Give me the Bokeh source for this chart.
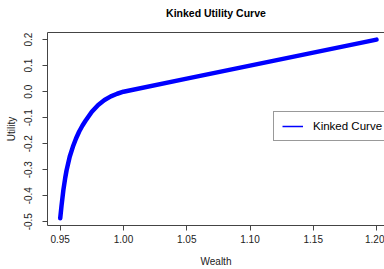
from bokeh.plotting import figure
from bokeh.models import (ColumnDataSource, LinearAxis, FixedTicker, Legend, LegendItem, Range1d)
from bokeh.embed import file_html
from bokeh.resources import INLINE

# ---- data ----
wealth = [0.950, 0.951, 0.9525, 0.954, 0.955, 0.9575, 0.960, 0.9625, 0.965, 0.9675,
          0.970, 0.975, 0.980, 0.985, 0.990, 0.995, 1.000, 1.050, 1.100, 1.150, 1.200]
utility = [-0.487, -0.440, -0.378, -0.330, -0.303, -0.250, -0.212, -0.180, -0.153, -0.131,
           -0.112, -0.077, -0.051, -0.032, -0.018, -0.008, 0.000, 0.050, 0.100, 0.150, 0.200]

x_ticks = [0.95, 1.00, 1.05, 1.10, 1.15, 1.20]
x_tick_labels = ["0.95", "1.00", "1.05", "1.10", "1.15", "1.20"]
y_ticks = [-0.5, -0.4, -0.3, -0.2, -0.1, 0.0, 0.1, 0.2]
y_tick_labels = ["-0.5", "-0.4", "-0.3", "-0.2", "-0.1", "0.0", "0.1", "0.2"]

title_text = "Kinked Utility Curve"
x_label = "Wealth"
y_label = "Utility"
series_name = "Kinked Curve"

FONT = "Liberation Sans"
AXC = "#444444"
TXC = "#222222"

p = figure(width=384, height=269, output_backend="svg", toolbar_location=None,
           x_range=Range1d(0.93995, 1.2063), y_range=Range1d(-0.5145, 0.2275),
           x_axis_type=None, y_axis_type=None,
           min_border_left=47, min_border_right=0, min_border_top=32, min_border_bottom=43)
p.title.text = ""
p.title.standoff = 0
p.outline_line_color = None
p.background_fill_color = "white"
p.border_fill_color = "white"
p.xgrid.visible = False
p.ygrid.visible = False

def style_axis(ax):
    ax.axis_line_color = AXC
    ax.axis_line_width = 1
    ax.major_tick_line_color = AXC
    ax.major_tick_out = 5
    ax.major_tick_in = 0
    ax.minor_tick_line_color = None
    ax.major_label_text_font = FONT
    ax.major_label_text_font_size = "10px"
    ax.major_label_text_color = TXC
    ax.axis_label_text_font = FONT
    ax.axis_label_text_font_size = "10px"
    ax.axis_label_text_font_style = "normal"
    ax.axis_label_text_color = TXC

xaxis = LinearAxis(ticker=FixedTicker(ticks=x_ticks),
                   major_label_overrides=dict(zip(x_ticks, x_tick_labels)),
                   axis_label=x_label)
style_axis(xaxis)
xaxis.major_label_standoff = 4
xaxis.axis_label_standoff = 10
p.add_layout(xaxis, "below")

yaxis = LinearAxis(ticker=FixedTicker(ticks=y_ticks),
                   major_label_overrides=dict(zip(y_ticks, y_tick_labels)),
                   axis_label=y_label)
style_axis(yaxis)
yaxis.major_label_orientation = "vertical"
yaxis.major_label_standoff = 10
yaxis.axis_label_standoff = 5
p.add_layout(yaxis, "left")

# top border of the box; its axis label carries the chart title (centred on the box)
top = LinearAxis(ticker=FixedTicker(ticks=[]), axis_label=title_text)
top.axis_line_color = AXC
top.major_tick_line_color = None
top.minor_tick_line_color = None
top.major_label_text_font_size = "0px"
top.major_label_standoff = 0
top.major_tick_out = 0
top.major_tick_in = 0
top.axis_label_standoff = 14
top.axis_label_text_font = FONT
top.axis_label_text_font_size = "10.5px"
top.axis_label_text_font_style = "bold"
top.axis_label_text_color = "black"
p.add_layout(top, "above")

src = ColumnDataSource(dict(x=wealth, y=utility))
r = p.line("x", "y", source=src, line_color="#0000FF", line_width=4.5,
           line_cap="round", line_join="round")

# thin, hidden copy used only for the legend sample
r_leg = p.line("x", "y", source=src, line_color="#0000FF", line_width=1.5, visible=False)

legend = Legend(items=[LegendItem(label=series_name, renderers=[r_leg])],
                location=(226, 84), orientation="vertical",
                padding=8, margin=0, spacing=0,
                glyph_width=21, glyph_height=12, label_height=12, label_width=80,
                label_standoff=10,
                label_text_font=FONT, label_text_font_size="11.5px",
                label_text_color="black",
                inactive_fill_alpha=0.0,
                border_line_color="#333333", border_line_width=1,
                background_fill_color="white", background_fill_alpha=1.0)
p.add_layout(legend, "center")

open("out.html", "w").write(file_html(p, INLINE))
